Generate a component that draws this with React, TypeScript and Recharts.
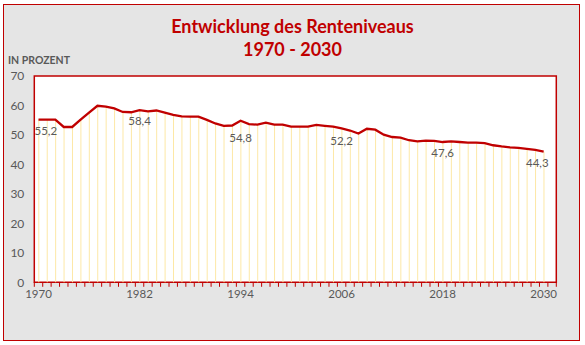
import React from "react";
import {
  Bar,
  CartesianGrid,
  ComposedChart,
  LabelList,
  Line,
  ReferenceArea,
  XAxis,
  YAxis,
} from "recharts";

// Jahre 1970 bis 2030
const years = Array.from({ length: 61 }, (_, i) => 1970 + i);

// Rentenniveau in Prozent
const niveau = [
  55.2, 55.2, 55.2, 52.7, 52.7, 55.2, 57.6, 59.9, 59.6, 59.0,
  57.8, 57.7, 58.4, 58.0, 58.3, 57.6, 56.8, 56.3, 56.2, 56.2,
  55.1, 53.9, 53.1, 53.2, 54.8, 53.7, 53.5, 54.2, 53.5, 53.5,
  52.8, 52.8, 52.8, 53.4, 53.1, 52.8, 52.2, 51.5, 50.5, 52.1,
  51.8, 50.1, 49.3, 49.1, 48.2, 47.8, 48.1, 48.0, 47.6, 47.8,
  47.6, 47.4, 47.4, 47.2, 46.5, 46.1, 45.8, 45.6, 45.3, 44.9,
  44.3,
];

const yearTicks = [1970, 1982, 1994, 2006, 2018, 2030];
const yTicks = [0, 10, 20, 30, 40, 50, 60, 70];
const boundaryTicks = Array.from({ length: 63 }, (_, i) => 1969.5 + i);

const data = years.map((year, i) => ({ year, value: niveau[i] }));

const RED = "#c00000";
const GREY = "#595959";
const FONT = "Lato, 'Open Sans', sans-serif";

// Abstand der Datenbeschriftung unter dem Punkt
const labelShift: Record<number, number> = { 1994: 16.5, 2006: 12 };

function ValueLabel(props: any) {
  const { x, y, value, index } = props;
  const year = data[index]?.year;
  if (!yearTicks.includes(year)) return null;
  let anchor: "start" | "middle" | "end" = "middle";
  let dx = 0;
  if (year === 1970) {
    anchor = "start";
    dx = -4;
  } else if (year === 2030) {
    anchor = "end";
    dx = 5;
  }
  return (
    <text
      x={x + dx}
      y={y + (labelShift[year] ?? 10.5)}
      textAnchor={anchor}
      dominantBaseline="central"
      fill={GREY}
      fontSize={11.5}
      fontFamily={FONT}
    >
      {String(value).replace(".", ",")}
    </text>
  );
}

export default function App() {
  return (
    <div style={{ position: "absolute", left: 0, top: 0, width: 585, height: 345, background: "#fff" }}>
      <div
        style={{
          position: "absolute",
          left: 3,
          top: 4,
          width: 577,
          height: 337,
          boxSizing: "border-box",
          border: `1.5px solid ${RED}`,
          background: "#e5e5e5",
        }}
      />
      <div
        style={{
          position: "absolute",
          left: 0,
          top: 14.5,
          width: 585,
          textAlign: "center",
          color: RED,
          fontFamily: FONT,
          fontWeight: 700,
          fontSize: 18,
          lineHeight: "23px",
        }}
      >
        Entwicklung des Renteniveaus
        <br />
        1970 - 2030
      </div>
      <div
        style={{
          position: "absolute",
          left: 8,
          top: 54,
          color: GREY,
          fontFamily: FONT,
          fontWeight: 700,
          fontSize: 10.5,
          lineHeight: "12px",
        }}
      >
        IN PROZENT
      </div>
      <div style={{ position: "absolute", left: 0, top: 0 }}>
        <ComposedChart
          width={585}
          height={345}
          data={data}
          margin={{ top: 76, right: 28.7, bottom: 37.7, left: 0 }}
        >
          <CartesianGrid horizontal={false} vertical={false} fill="#fff" />
          <XAxis
            dataKey="year"
            type="number"
            domain={[1969.5, 2031.5]}
            allowDataOverflow
            ticks={boundaryTicks}
            interval={0}
            height={5}
            tickSize={4.5}
            tickLine={{ stroke: RED, strokeWidth: 1 }}
            axisLine={false}
            tickFormatter={() => ""}
          />
          <XAxis
            xAxisId="years"
            dataKey="year"
            type="number"
            domain={[1969.5, 2031.5]}
            allowDataOverflow
            ticks={yearTicks}
            interval={0}
            height={20}
            tickSize={0}
            tickMargin={3}
            tickLine={false}
            axisLine={false}
            tick={{ fill: GREY, fontSize: 11.5, fontFamily: FONT }}
          />
          <YAxis
            type="number"
            domain={[0, 70]}
            ticks={yTicks}
            interval={0}
            width={34.3}
            tickSize={0}
            tickMargin={10}
            tickLine={false}
            axisLine={false}
            tick={{ fill: GREY, fontSize: 12, fontFamily: FONT }}
          />
          <Bar dataKey="value" barSize={1} fill="#fde8a6" isAnimationActive={false} />
          <ReferenceArea
            x1={1969.5}
            x2={2031.5}
            y1={0}
            y2={70}
            fill="none"
            stroke={RED}
            strokeWidth={1.5}
            ifOverflow="extendDomain"
          />
          <Line
            type="linear"
            dataKey="value"
            stroke={RED}
            strokeWidth={2.3}
            dot={false}
            isAnimationActive={false}
          >
            <LabelList dataKey="value" content={<ValueLabel />} />
          </Line>
        </ComposedChart>
      </div>
    </div>
  );
}
